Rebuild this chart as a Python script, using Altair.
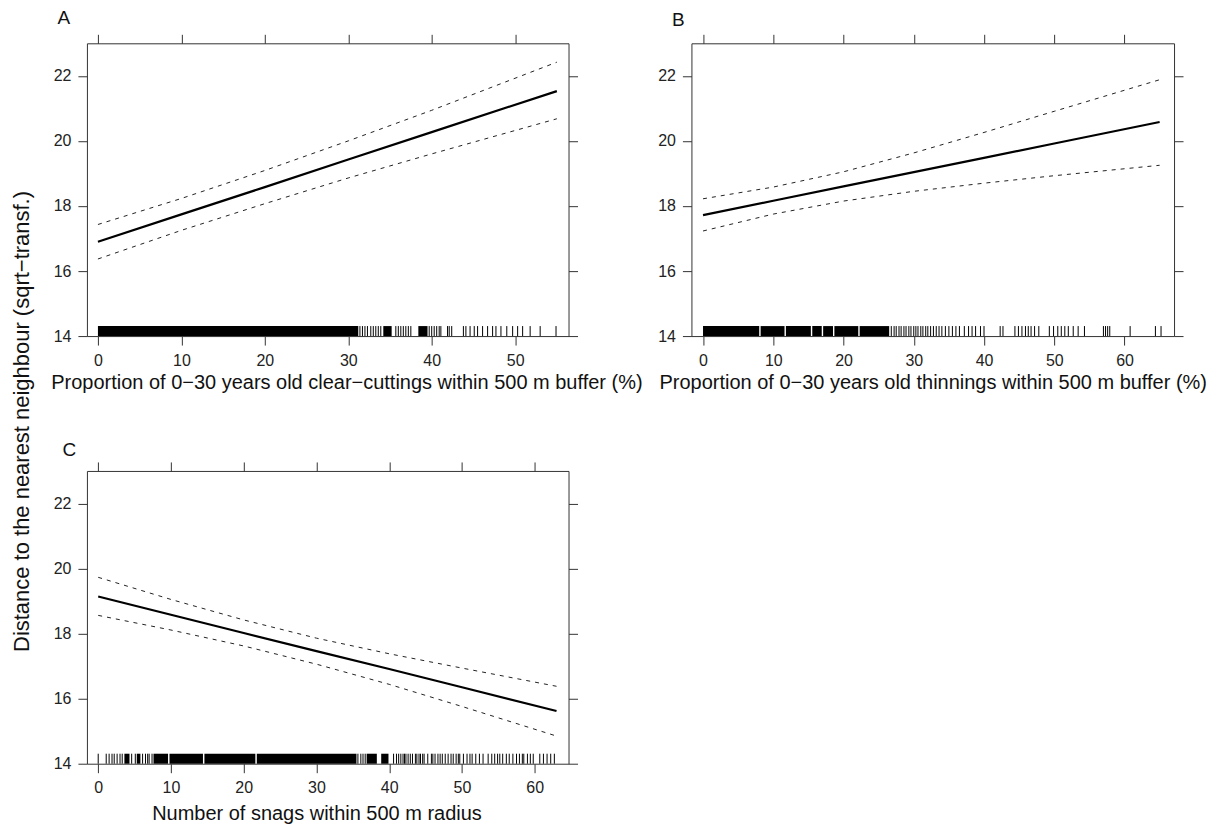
import altair as alt
import pandas as pd

Y_DOMAIN = [14, 23]
Y_TICKS = [14, 16, 18, 20, 22]
Y_TITLE = "Distance to the nearest neighbour (sqrt\u2212transf.)"

# ---------------- Panel A ----------------
A_TITLE = "Proportion of 0\u221230 years old clear\u2212cuttings within 500 m buffer (%)"
A_X = [0, 10, 20, 30, 40, 55]
A_FIT = [16.90, 17.74, 18.58, 19.43, 20.27, 21.53]
A_UP = [17.43, 18.23, 19.09, 20.00, 20.94, 22.42]
A_LO = [16.37, 17.25, 18.07, 18.86, 19.60, 20.68]
A_RUG_START = [0.0, 34.2, 38.4]
A_RUG_END = [31.2, 35.2, 39.5]
A_RUG = [31.4, 31.7, 32.0, 32.3, 32.7, 33.0, 33.3, 33.6, 33.9, 35.7, 36.0, 36.3,
         36.6, 36.9, 37.2, 37.5, 39.7, 40.0, 40.3, 40.6, 40.9, 41.1, 41.9, 42.1,
         42.4, 43.8, 44.1, 44.6, 45.1, 45.5, 46.1, 46.7, 47.3, 47.7, 48.3, 49.0,
         49.7, 50.3, 50.9, 51.8, 53.0, 54.9]
A_XTICKS = [0, 10, 20, 30, 40, 50]
A_XDOMAIN = [-1.32, 56.4]

# ---------------- Panel B ----------------
B_TITLE = "Proportion of 0\u221230 years old thinnings within 500 m buffer (%)"
B_X = [0, 10, 20, 30, 40, 50, 65]
B_FIT = [17.72, 18.16, 18.60, 19.04, 19.48, 19.92, 20.58]
B_UP = [18.22, 18.58, 19.05, 19.63, 20.26, 20.91, 21.88]
B_LO = [17.23, 17.75, 18.15, 18.45, 18.70, 18.93, 19.25]
B_RUG_START = [0.0, 8.2, 11.8, 15.55, 17.1, 18.7, 22.3]
B_RUG_END = [8.0, 11.6, 15.35, 16.9, 18.5, 22.1, 26.5]
B_RUG = [26.8, 27.2, 27.5, 27.9, 28.2, 28.6, 28.9, 29.3, 29.6, 30.0, 30.3, 30.6,
         31.0, 31.3, 31.7, 32.0, 32.4, 32.8, 33.2, 33.6, 34.0, 34.5, 35.0, 35.5,
         36.0, 36.5, 37.2, 37.8, 38.3, 38.8, 39.5, 40.0, 42.3, 42.7, 44.4, 44.9,
         45.4, 45.9, 46.3, 46.7, 47.2, 47.8, 49.3, 49.9, 50.5, 51.0, 51.5, 52.0,
         52.7, 53.4, 54.3, 57.0, 57.3, 57.6, 57.9, 60.8, 64.4, 65.2]
B_XTICKS = [0, 10, 20, 30, 40, 50, 60]
B_XDOMAIN = [-1.65, 67.05]

# ---------------- Panel C ----------------
C_TITLE = "Number of snags within 500 m radius"
C_X = [0, 10, 20, 30, 40, 50, 63]
C_FIT = [19.14, 18.58, 18.02, 17.46, 16.91, 16.35, 15.62]
C_UP = [19.73, 19.05, 18.42, 17.86, 17.38, 16.94, 16.38]
C_LO = [18.56, 18.11, 17.62, 17.06, 16.44, 15.76, 14.85]
C_RUG_START = [3.6, 5.3, 7.6, 9.8, 14.6, 21.8, 36.9, 38.9]
C_RUG_END = [4.3, 5.8, 9.6, 14.4, 21.6, 35.5, 38.3, 39.9]
C_RUG = [0.0, 1.1, 1.5, 1.9, 2.2, 2.6, 3.0, 3.3, 4.6, 5.1, 6.1, 6.5, 6.8, 7.0, 7.4,
         35.7, 36.1, 36.4, 36.7, 40.6, 41.0, 41.3, 41.6, 41.9, 42.1, 42.3, 42.6,
         42.9, 43.2, 43.6, 43.8, 44.1, 44.3, 44.6, 44.8, 45.3, 45.8, 46.0, 46.3,
         46.7, 47.0, 47.3, 47.7, 48.1, 48.5, 48.8, 49.2, 49.5, 49.7, 50.2, 50.7,
         51.1, 51.4, 51.9, 52.4, 52.9, 53.6, 54.1, 54.5, 54.9, 55.2, 55.6, 56.1,
         56.5, 57.0, 57.5, 57.9, 58.3, 58.5, 59.0, 59.4, 59.8, 60.7, 61.2, 61.7,
         62.2, 62.7]
C_XTICKS = [0, 10, 20, 30, 40, 50, 60]
C_XDOMAIN = [-1.55, 64.65]

PH = 293
FONT = "Liberation Sans"


def make_panel(x, fit, up, lo, rs, re, rug, xdom, xticks, xtitle, title_x, title_y,
               label, label_x, label_y, width, ytitle=None):
    xs = alt.Scale(domain=xdom, nice=False, zero=False)
    ys = alt.Scale(domain=Y_DOMAIN, nice=False, zero=False)
    lines = pd.DataFrame({"x": x, "fit": fit, "up": up, "lo": lo})
    base = alt.Chart(lines)

    bottom = alt.Axis(orient="bottom", values=xticks, format="d", title=xtitle,
                      titleX=title_x, titleY=title_y, titleAlign="center",
                      titleBaseline="middle", labelBaseline="middle",
                      labelPadding=15, labelFlush=False)
    left_kw = dict(orient="left", values=Y_TICKS, format="d", labelPadding=7,
                   labelBaseline="middle", labelFlush=False)
    if ytitle:
        left = alt.Axis(title=ytitle, titleX=-65.3, titleY=378, titleAngle=270,
                        titleFontSize=22, titleAlign="center",
                        titleBaseline="middle", **left_kw)
    else:
        left = alt.Axis(title=None, **left_kw)
    top = alt.Axis(orient="top", values=xticks, labels=False, title=None)
    right = alt.Axis(orient="right", values=Y_TICKS, labels=False, title=None)

    fit_l = base.mark_line(color="black", strokeWidth=2.2).encode(
        x=alt.X("x:Q", scale=xs, axis=bottom),
        y=alt.Y("fit:Q", scale=ys, axis=left))
    up_l = base.mark_line(color="#222", strokeWidth=1, strokeDash=[4, 5]).encode(
        x=alt.X("x:Q", scale=xs, axis=top),
        y=alt.Y("up:Q", scale=ys, axis=right))
    lo_l = base.mark_line(color="#222", strokeWidth=1, strokeDash=[4, 5]).encode(
        x=alt.X("x:Q", scale=xs, axis=None),
        y=alt.Y("lo:Q", scale=ys, axis=None))
    blocks = alt.Chart(pd.DataFrame({"a": rs, "b": re})).mark_rect(color="black").encode(
        x=alt.X("a:Q", scale=xs, axis=None), x2="b:Q",
        y=alt.value(PH - 10), y2=alt.value(PH))
    ticks = alt.Chart(pd.DataFrame({"v": rug})).mark_rule(color="black", strokeWidth=1).encode(
        x=alt.X("v:Q", scale=xs, axis=None),
        y=alt.value(PH - 10), y2=alt.value(PH))
    lab = alt.Chart(pd.DataFrame({"t": [label]})).mark_text(
        fontSize=19, align="center", baseline="middle", font=FONT, color="#111").encode(
        text="t:N", x=alt.value(label_x), y=alt.value(label_y))
    return alt.layer(blocks, ticks, lo_l, up_l, fit_l, lab).resolve_axis(
        x="independent", y="independent").properties(width=width, height=PH)


pa = make_panel(A_X, A_FIT, A_UP, A_LO, A_RUG_START, A_RUG_END, A_RUG, A_XDOMAIN,
                A_XTICKS, A_TITLE, 259.7, 46, "A", -23, -25, 482, ytitle=Y_TITLE)
pb = make_panel(B_X, B_FIT, B_UP, B_LO, B_RUG_START, B_RUG_END, B_RUG, B_XDOMAIN,
                B_XTICKS, B_TITLE, 241.5, 46, "B", -13, -23, 483)
pc = make_panel(C_X, C_FIT, C_UP, C_LO, C_RUG_START, C_RUG_END, C_RUG, C_XDOMAIN,
                C_XTICKS, C_TITLE, 229.7, 50, "C", -17.5, -20.5, 482)

chart = alt.concat(pa, pb, pc, columns=2, spacing={"row": 135, "column": 123},
                   bounds="flush").properties(
    padding={"left": 10, "top": 8, "right": 5, "bottom": 0},
    background="white"
).configure_view(stroke="#333", strokeWidth=1).configure_axis(
    domain=False, grid=False, ticks=True, tickSize=9, tickColor="#333", tickWidth=1,
    labelFont=FONT, labelFontSize=16, labelColor="#222",
    titleFont=FONT, titleFontSize=20, titleFontWeight="normal", titleColor="#111"
)

chart.save("out.html", embed_options={"renderer": "svg", "actions": False})
